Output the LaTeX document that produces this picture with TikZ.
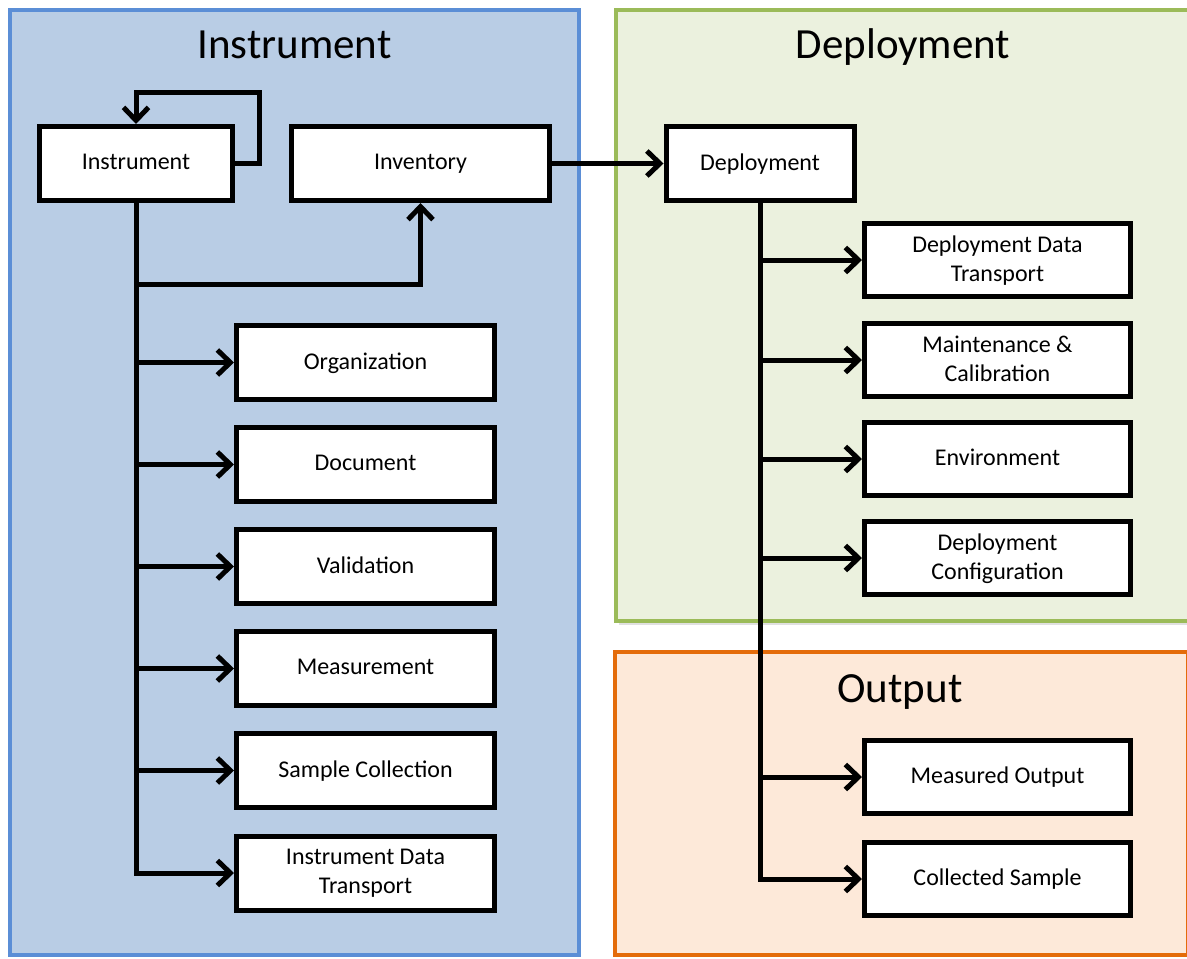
\documentclass[tikz,border=0pt]{standalone}
\usepackage{fontspec}
\setmainfont{Carlito}
\usetikzlibrary{arrows.meta}
\definecolor{bluefill}{HTML}{B9CDE5}
\definecolor{blueline}{HTML}{5B8ED6}
\definecolor{greenfill}{HTML}{EBF1DE}
\definecolor{greenline}{HTML}{9BBB59}
\definecolor{orangefill}{HTML}{FDE9D9}
\definecolor{orangeline}{HTML}{E46C0A}
\begin{document}
\begin{tikzpicture}[x=1pt,y=-1pt,
  box/.style={draw=black, line width=5pt, fill=white, minimum height=74pt,
    align=center, font=\fontsize{24}{29}\selectfont, inner sep=2pt,
    text depth=3pt},
  lbox/.style={box, minimum width=258pt},
  rbox/.style={box, minimum width=266pt, minimum height=73pt},
  conn/.style={line width=5pt, -{Straight Barb[length=13pt,width=25pt]}},
  titletext/.style={font=\fontsize{43}{50}\selectfont, anchor=base},
  panel/.style={line width=4.5pt}]
\useasboundingbox (0,0) rectangle (1187,959);
\clip (0,0) rectangle (1187,959);
\fill[white] (0,0) rectangle (1187,959);
% panels
\draw[panel, draw=blueline, fill=bluefill] (10,10) rectangle (579,955);
\fill[black, opacity=0.12] (619,14) rectangle (1196,625);
\draw[panel, draw=greenline, fill=greenfill] (616,10) rectangle (1196,621);
\draw[panel, draw=orangeline, fill=orangefill] (615,652) rectangle (1188,955);
% titles
\node[titletext] (tinst) at (294.5,58) {Instrument};
\node[titletext] (tdep) at (903,58) {Deployment};
\node[titletext] (tout) at (900,702) {Output};
% top row
\node[box, minimum width=193pt] (instr) at (136,163.5) {Instrument};
\node[box, minimum width=258pt] (inv) at (420.5,163.5) {Inventory};
\node[box, minimum width=188pt] (dep) at (760,163.5) {Deployment};
% left column
\node[lbox] (org) at (365.5,362.5) {Organization};
\node[lbox] (doc) at (365.5,464.5) {Document};
\node[lbox] (val) at (365.5,566.5) {Validation};
\node[lbox] (meas) at (365.5,668.5) {Measurement};
\node[lbox] (samp) at (365.5,770.5) {Sample Collection};
\node[lbox] (idt) at (365.5,873) {Instrument Data\\Transport};
% right column
\node[rbox] (ddt) at (997.5,260) {Deployment Data\\Transport};
\node[rbox] (mc) at (997.5,360) {Maintenance \&\\Calibration};
\node[rbox] (env) at (997.5,459) {Environment};
\node[rbox] (dc) at (997.5,558) {Deployment\\Configuration};
\node[rbox] (mo) at (997.5,777) {Measured Output};
\node[rbox] (cs) at (997.5,879) {Collected Sample};
% connectors: instrument
\draw[conn] (instr.east) -- ++(24,0) -- ++(0,-71.5) -| (instr.north);
\draw[conn] (instr.south) -- ++(0,81.5) -| (inv.south);
\draw[conn] (instr.south) |- (idt.west);
\foreach \n in {org,doc,val,meas,samp}
  \draw[conn] (instr.south |- \n.west) -- (\n.west);
\draw[conn] (inv.east) -- (dep.west);
% connectors: deployment
\draw[conn] (dep.south) |- (cs.west);
\foreach \n in {ddt,mc,env,dc,mo}
  \draw[conn] (dep.south |- \n.west) -- (\n.west);
\end{tikzpicture}
\end{document}
